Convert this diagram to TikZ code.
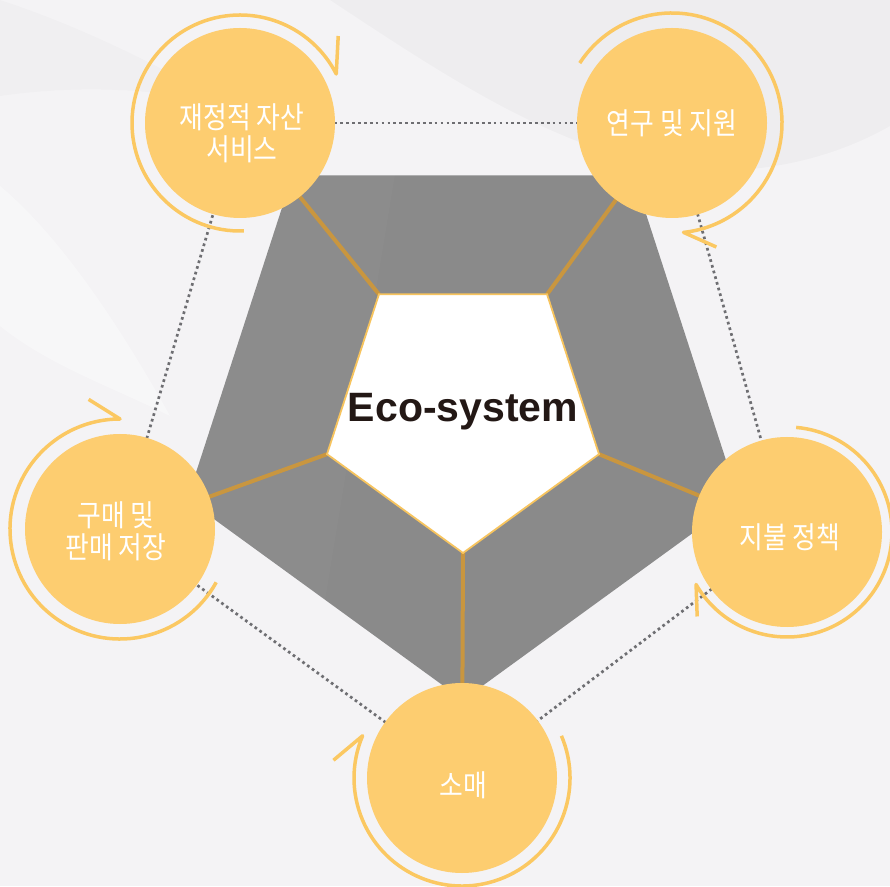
\documentclass[tikz,border=0pt]{standalone}
\usepackage{fontspec}
\setmainfont{Liberation Sans}
\newfontfamily\kr[FakeStretch=0.86]{Noto Sans CJK KR}
\usetikzlibrary{calc}
\definecolor{bgc}{HTML}{F4F3F5}
\definecolor{pent}{HTML}{8A8A8A}
\definecolor{spokec}{HTML}{C9963F}
\definecolor{circc}{HTML}{FDCD70}
\definecolor{arcc}{HTML}{FBC862}
\definecolor{dotc}{HTML}{6E6E72}
\definecolor{txtc}{HTML}{231815}
\definecolor{innerc}{HTML}{F7C45E}
\pgfdeclarelayer{bg}
\pgfsetlayers{bg,main}
\begin{document}
\begin{tikzpicture}[x=1pt,y=1pt,
  hub/.style={circle, fill=circc, minimum size=190pt, inner sep=0pt},
  hubtext/.style={text=white, font=\kr\fontsize{30}{32}\selectfont, align=center, inner sep=0pt},
  link/.style={dotc, line width=2.7pt, dash pattern=on 2.7pt off 3.2pt},
  spokeline/.style={spokec, line width=4pt},
  cyc/.style={arcc, line width=3.5pt, line join=round}
]
\useasboundingbox (0,0) rectangle (890,886);

\coordinate (O) at (463,476);
\node[hub] (A) at (240,763) {};
\node[hub] (B) at (672,763) {};
\node[hub] (C) at (787,354) {};
\node[hub] (D) at (462,108) {};
\node[hub] (E) at (120,357) {};

\node[hubtext] (tA) at (242,753) {재정적 자산\\서비스};
\node[hubtext] (tB) at (672,763) {연구 및 지원};
\node[hubtext] (tC) at (790,349) {지불 정책};
\node[hubtext] (tD) at (463,101) {소매};
\node[hubtext] (tE) at (116,355) {구매 및\\판매 저장};

\begin{pgfonlayer}{bg}
\fill[bgc] (0,0) rectangle (890,886);
% faint background swirls (soft, curved only)
\fill[black, opacity=0.022] (330,886) .. controls (430,820) and (520,760) .. (620,730)
   .. controls (720,700) and (820,720) .. (890,760) -- (890,886) -- cycle;
\fill[black, opacity=0.015] (0,886) .. controls (80,860) and (160,820) .. (230,780)
   .. controls (150,800) and (70,800) .. (0,790) -- cycle;
\fill[white, opacity=0.35] (0,700) .. controls (60,650) and (120,560) .. (170,470)
   .. controls (110,500) and (50,520) .. (0,560) -- cycle;
% dotted ring
\draw[link] (A.center) -- (B.center);
\draw[link] (B.center) -- (C.center);
\draw[link] (C.center) -- (D.center);
\draw[link] (D.center) -- (E.center);
\draw[link] (E.center) -- (A.center);
% outer pentagon
\coordinate (o1) at ($(O)+(54:290)$);
\coordinate (o2) at ($(O)+(126:290)$);
\coordinate (o3) at ($(O)+(198:290)$);
\coordinate (o4) at ($(O)+(270:290)$);
\coordinate (o5) at ($(O)+(342:290)$);
\fill[pent] (o1) -- (o2) -- (o3) -- (o4) -- (o5) -- cycle;
% subtle sheen on the grey band
\fill[white, opacity=0.025] (o2) -- ($(o2)!0.3!(o1)$) -- ($(o3)!0.5!(o4)$) -- (o3) -- cycle;
% inner pentagon vertices
\coordinate (i1) at ($(O)+(54:143)$);
\coordinate (i2) at ($(O)+(126:143)$);
\coordinate (i3) at ($(O)+(198:143)$);
\coordinate (i4) at ($(O)+(270:143)$);
\coordinate (i5) at ($(O)+(342:143)$);
\draw[spokeline] (i1) -- (B.center);
\draw[spokeline] (i2) -- (A.center);
\draw[spokeline] (i3) -- (E.center);
\draw[spokeline] (i4) -- (D.center);
\draw[spokeline] (i5) -- (C.center);
\filldraw[fill=white, draw=innerc, line width=1.8pt, line join=miter]
  (i1) -- (i2) -- (i3) -- (i4) -- (i5) -- cycle;
\end{pgfonlayer}

\node[text=txtc, font=\bfseries\fontsize{41}{45}\selectfont] (eco) at (463,474) {Eco-system};

% cycle arcs with a single barb
\draw[cyc] ($(A.center)+(272:108)$) arc[start angle=272, end angle=27, radius=108] -- ++(87:38);
\draw[cyc] ($(B.center)+(147:110)$) arc[start angle=147, end angle=-84, radius=110] -- ++(-24:36);
\draw[cyc] ($(C.center)+(85:105)$) arc[start angle=85, end angle=-150, radius=105] -- ++(-88:32);
\draw[cyc] ($(D.center)+(23:108)$) arc[start angle=23, end angle=-203, radius=108] -- ++(-140:38);
\draw[cyc] ($(E.center)+(-29:110)$) arc[start angle=-29, end angle=-270, radius=110] -- ++(148:37);
\end{tikzpicture}
\end{document}
